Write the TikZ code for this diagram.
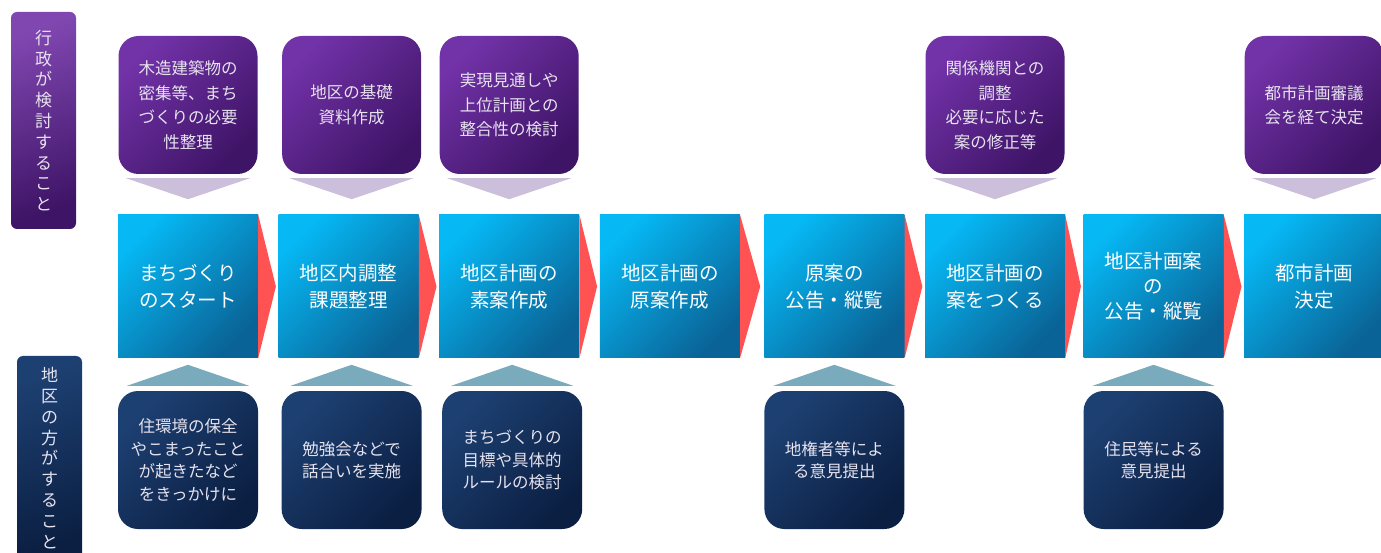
\documentclass[tikz,border=0pt]{standalone}
\usepackage{fontspec}
\setmainfont{Noto Sans CJK JP}
\usepackage{tikz}

\definecolor{purpleA}{HTML}{7232A8}
\definecolor{purpleB}{HTML}{3E1466}
\definecolor{blueA}{HTML}{06B8F4}
\definecolor{blueB}{HTML}{0A6396}
\definecolor{navyA}{HTML}{1D4072}
\definecolor{navyB}{HTML}{0B1F42}
\definecolor{lavender}{HTML}{CBBFDB}
\definecolor{tealtri}{HTML}{7AABBC}
\definecolor{chevred}{HTML}{FF5353}
\definecolor{paletext}{HTML}{E6E2EE}

\begin{document}
\begin{tikzpicture}[x=1pt,y=1pt,
    stepbox/.style={top color=blueA,bottom color=blueB,shading angle=45,
      minimum width=140pt,minimum height=143pt,inner sep=0pt,align=center,
      text=white,font=\fontsize{19.5}{27}\selectfont},
    govbox/.style={top color=purpleA,bottom color=purpleB,shading angle=45,
      rounded corners=20pt,minimum width=139pt,minimum height=138pt,inner sep=0pt,
      align=center,text=paletext,font=\fontsize{16.5}{24.5}\selectfont},
    localbox/.style={top color=navyA,bottom color=navyB,shading angle=45,
      rounded corners=20pt,minimum width=140pt,minimum height=138pt,inner sep=0pt,
      align=center,text=paletext,font=\fontsize{16.5}{22.5}\selectfont},
    sidelabel/.style={rounded corners=6pt,minimum width=65pt,inner sep=0pt,
      align=center,text=paletext,font=\fontsize{17}{20.8}\selectfont},
  ]
      \useasboundingbox (0,0) rectangle (1381,552);

      % side labels
      \node [sidelabel,top color=purpleA!90!white,bottom color=purpleB,shading angle=20,
        minimum height=217pt] (gov) at (43.5,431.5)
        {行\\政\\が\\検\\討\\す\\る\\こ\\と};
      \node [sidelabel,top color=navyA,bottom color=navyB,shading angle=20,
        minimum height=204pt] (local) at (49.5,94)
        {地\\区\\の\\方\\が\\す\\る\\こ\\と};

      % main steps
      \node [stepbox] (1) at (188,265.5) {まちづくり\\のスタート};
      \node [stepbox,node distance=160.6pt,right of=1] (2) {地区内調整\\課題整理};
      \node [stepbox,node distance=160.6pt,right of=2] (3) {地区計画の\\素案作成};
      \node [stepbox,node distance=160.6pt,right of=3] (4) {地区計画の\\原案作成};
      \node [stepbox,node distance=160.6pt,right of=4,xshift=4pt] (5) {原案の\\公告・縦覧};
      \node [stepbox,node distance=160.6pt,right of=5] (6) {地区計画の\\案をつくる};
      \node [stepbox,node distance=160.6pt,right of=6,xshift=-2pt,
        font=\fontsize{19.5}{25}\selectfont] (7) {地区計画案\\の\\公告・縦覧};
      \node [stepbox,node distance=160.6pt,right of=7] (8) {都市計画\\決定};

      \fill [chevred] (1.north east) -- ([xshift=-2.5pt]2.west) -- (1.south east) -- cycle;
      \fill [chevred] (2.north east) -- ([xshift=-2.5pt]3.west) -- (2.south east) -- cycle;
      \fill [chevred] (3.north east) -- ([xshift=-2.5pt]4.west) -- (3.south east) -- cycle;
      \fill [chevred] (4.north east) -- ([xshift=-4pt]5.west) -- (4.south east) -- cycle;
      \fill [chevred] (5.north east) -- ([xshift=-2.5pt]6.west) -- (5.south east) -- cycle;
      \fill [chevred] (6.north east) -- ([xshift=-2.5pt]7.west) -- (6.south east) -- cycle;
      \fill [chevred] (7.north east) -- ([xshift=-2.5pt]8.west) -- (7.south east) -- cycle;

      % what the administration does
      \node [govbox,node distance=181.5pt,above of=1] (t1) {木造建築物の\\密集等、まち\\づくりの必要\\性整理};
      \node [govbox,node distance=181.5pt,above of=2,xshift=3pt] (t2) {地区の基礎\\資料作成};
      \node [govbox,node distance=181.5pt,above of=3] (t3) {実現見通しや\\上位計画との\\整合性の検討};
      \node [govbox,node distance=181.5pt,above of=6] (t6) {関係機関との\\調整\\必要に応じた\\案の修正等};
      \node [govbox,node distance=181.5pt,above of=8] (t8) {都市計画審議\\会を経て決定};

      \fill [lavender] ([xshift=-62pt,yshift=-4pt]t1.south) -- ([xshift=62pt,yshift=-4pt]t1.south) -- ([yshift=-25pt]t1.south) -- cycle;
      \fill [lavender] ([xshift=-62pt,yshift=-4pt]t2.south) -- ([xshift=62pt,yshift=-4pt]t2.south) -- ([yshift=-25pt]t2.south) -- cycle;
      \fill [lavender] ([xshift=-62pt,yshift=-4pt]t3.south) -- ([xshift=62pt,yshift=-4pt]t3.south) -- ([yshift=-25pt]t3.south) -- cycle;
      \fill [lavender] ([xshift=-62pt,yshift=-4pt]t6.south) -- ([xshift=62pt,yshift=-4pt]t6.south) -- ([yshift=-25pt]t6.south) -- cycle;
      \fill [lavender] ([xshift=-62pt,yshift=-4pt]t8.south) -- ([xshift=62pt,yshift=-4pt]t8.south) -- ([yshift=-25pt]t8.south) -- cycle;

      % what the residents do
      \node [localbox,node distance=173.5pt,below of=1] (u1) {住環境の保全\\やこまったこと\\が起きたなど\\をきっかけに};
      \node [localbox,node distance=173.5pt,below of=2,xshift=3pt] (u2) {勉強会などで\\話合いを実施};
      \node [localbox,node distance=173.5pt,below of=3,xshift=3pt] (u3) {まちづくりの\\目標や具体的\\ルールの検討};
      \node [localbox,node distance=173.5pt,below of=5] (u5) {地権者等によ\\る意見提出};
      \node [localbox,node distance=173.5pt,below of=7] (u7) {住民等による\\意見提出};

      \fill [tealtri] ([xshift=-61pt,yshift=5pt]u1.north) -- ([xshift=61pt,yshift=5pt]u1.north) -- ([yshift=26pt]u1.north) -- cycle;
      \fill [tealtri] ([xshift=-61pt,yshift=5pt]u2.north) -- ([xshift=61pt,yshift=5pt]u2.north) -- ([yshift=26pt]u2.north) -- cycle;
      \fill [tealtri] ([xshift=-61pt,yshift=5pt]u3.north) -- ([xshift=61pt,yshift=5pt]u3.north) -- ([yshift=26pt]u3.north) -- cycle;
      \fill [tealtri] ([xshift=-61pt,yshift=5pt]u5.north) -- ([xshift=61pt,yshift=5pt]u5.north) -- ([yshift=26pt]u5.north) -- cycle;
      \fill [tealtri] ([xshift=-61pt,yshift=5pt]u7.north) -- ([xshift=61pt,yshift=5pt]u7.north) -- ([yshift=26pt]u7.north) -- cycle;
    \end{tikzpicture}
\end{document}
